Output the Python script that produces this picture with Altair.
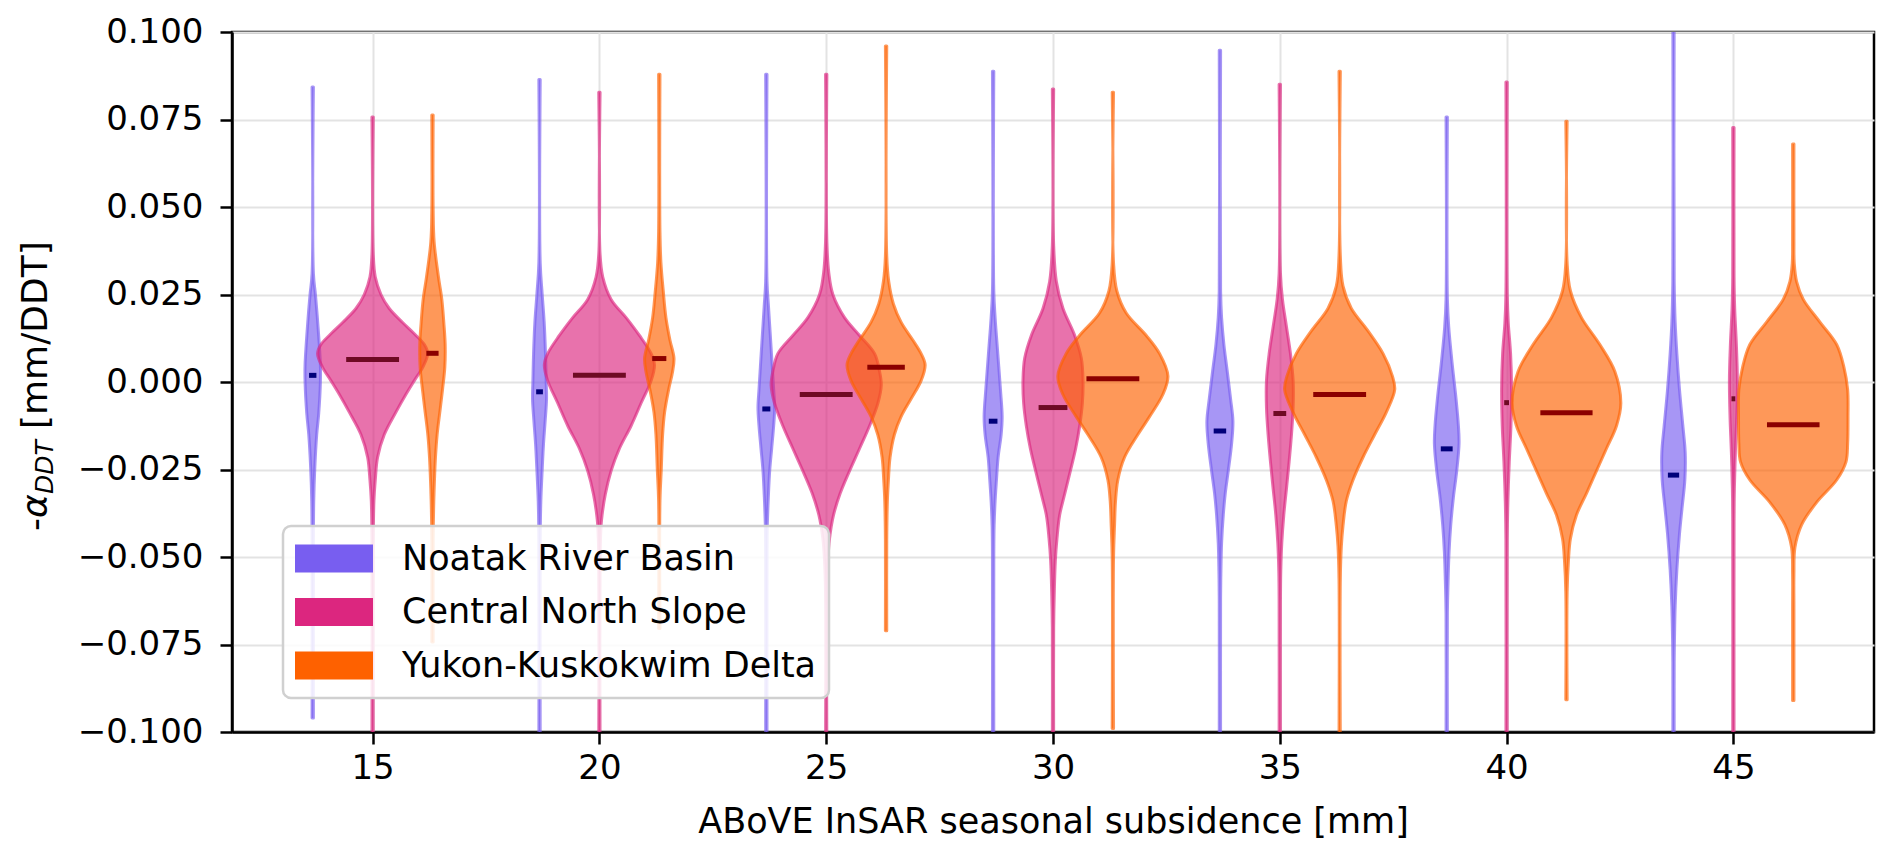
import altair as alt
import pandas as pd

# ---------------- data ----------------
REGIONS = ["Noatak River Basin", "Central North Slope", "Yukon-Kuskokwim Delta"]
COLORS = ["#785EF0", "#DC267F", "#FE6100"]
MEDIAN_COLORS = ["#00007A", "#6E0A24", "#8B0000"]
SUBSIDENCE = [15, 20, 25, 30, 35, 40, 45]
OFFSETS = [-1.32, 0.0, 1.32]
Y_TICKS = [-0.1, -0.075, -0.05, -0.025, 0.0, 0.025, 0.05, 0.075, 0.1]

MED_NOATAK = [0.0019, -0.0028, -0.0077, -0.0112, -0.0140, -0.0191, -0.0266]
MED_CNS = [0.0064, 0.0019, -0.0036, -0.0073, -0.0090, -0.0059, -0.0048]
MED_YKD = [0.0082, 0.0067, 0.0042, 0.0009, -0.0036, -0.0088, -0.0122]

# violin profiles: y levels and half-widths (x units)
N15_Y = [0.0843, 0.031, 0.025, 0.017, 0.005, 0.000, -0.009, -0.015, -0.025, -0.034, -0.045, -0.096]
N15_W = [0.015, 0.015, 0.059, 0.110, 0.169, 0.169, 0.132, 0.088, 0.044, 0.022, 0.015, 0.015]
C15_Y = [0.0757, 0.0364, 0.030, 0.025, 0.021, 0.017, 0.0133, 0.0107, 0.0081, 0.0042, 0.0004, -0.0035, -0.0086, -0.015, -0.0215, -0.028, -0.034, -0.045, -0.105]
C15_W = [0.015, 0.015, 0.059, 0.184, 0.368, 0.662, 0.957, 1.141, 1.214, 1.104, 0.920, 0.736, 0.515, 0.258, 0.110, 0.059, 0.029, 0.015, 0.015]
Y15_Y = [0.0763, 0.049, 0.040, 0.030, 0.0236, 0.017, 0.0107, 0.0042, -0.0022, -0.0086, -0.015, -0.0215, -0.028, -0.034, -0.045, -0.0743]
Y15_W = [0.015, 0.015, 0.037, 0.132, 0.206, 0.250, 0.280, 0.272, 0.221, 0.162, 0.103, 0.066, 0.044, 0.029, 0.015, 0.015]

N20_Y = [0.0864, 0.034, 0.025, 0.017, 0.008, 0.000, -0.0048, -0.011, -0.0176, -0.025, -0.034, -0.045, -0.105]
N20_W = [0.015, 0.015, 0.059, 0.103, 0.132, 0.147, 0.155, 0.125, 0.088, 0.059, 0.029, 0.015, 0.015]
C20_Y = [0.0828, 0.0364, 0.030, 0.0236, 0.0184, 0.0133, 0.0081, 0.0049, 0.0004, -0.006, -0.0125, -0.019, -0.0254, -0.032, -0.038, -0.041, -0.050, -0.105]
C20_W = [0.015, 0.015, 0.074, 0.258, 0.589, 0.883, 1.141, 1.214, 1.141, 0.920, 0.699, 0.442, 0.258, 0.132, 0.059, 0.037, 0.015, 0.015]
Y20_Y = [0.0879, 0.043, 0.034, 0.026, 0.0184, 0.012, 0.0068, 0.003, -0.0022, -0.0086, -0.015, -0.025, -0.034, -0.0704]
Y20_W = [0.015, 0.015, 0.037, 0.088, 0.147, 0.235, 0.324, 0.294, 0.206, 0.118, 0.074, 0.044, 0.015, 0.015]

N25_Y = [0.0879, 0.0287, 0.0223, 0.0133, 0.0042, -0.0022, -0.0073, -0.0125, -0.019, -0.0254, -0.033, -0.041, -0.050, -0.105]
N25_W = [0.015, 0.015, 0.044, 0.088, 0.132, 0.162, 0.184, 0.162, 0.118, 0.074, 0.044, 0.022, 0.015, 0.015]
C25_Y = [0.0879, 0.040, 0.031, 0.025, 0.0184, 0.0133, 0.0081, 0.003, -0.0009, -0.006, -0.0125, -0.019, -0.0254, -0.0318, -0.038, -0.0447, -0.051, -0.060, -0.105]
C25_W = [0.015, 0.015, 0.059, 0.147, 0.405, 0.736, 1.067, 1.177, 1.214, 1.141, 0.957, 0.736, 0.515, 0.309, 0.162, 0.074, 0.037, 0.015, 0.015]
Y25_Y = [0.096, 0.036, 0.0287, 0.0223, 0.0171, 0.012, 0.0081, 0.0049, 0.0004, -0.0048, -0.0099, -0.015, -0.0215, -0.028, -0.034, -0.045, -0.0711]
Y25_W = [0.015, 0.015, 0.059, 0.162, 0.331, 0.589, 0.773, 0.861, 0.773, 0.552, 0.331, 0.184, 0.088, 0.052, 0.029, 0.015, 0.015]

N30_Y = [0.0888, 0.026, 0.0184, 0.0081, -0.0022, -0.0099, -0.015, -0.0215, -0.028, -0.034, -0.041, -0.050, -0.105]
N30_W = [0.015, 0.015, 0.044, 0.103, 0.162, 0.199, 0.177, 0.110, 0.074, 0.044, 0.022, 0.015, 0.015]
C30_Y = [0.0837, 0.039, 0.0287, 0.021, 0.0133, 0.0068, 0.0004, -0.006, -0.0125, -0.019, -0.0254, -0.032, -0.038, -0.0447, -0.051, -0.060, -0.070, -0.105]
C30_W = [0.015, 0.015, 0.074, 0.221, 0.478, 0.625, 0.662, 0.648, 0.589, 0.500, 0.383, 0.258, 0.147, 0.088, 0.052, 0.029, 0.015, 0.015]
Y30_Y = [0.0828, 0.034, 0.026, 0.0197, 0.0133, 0.0081, 0.0017, -0.0035, -0.0099, -0.015, -0.0215, -0.028, -0.034, -0.041, -0.050, -0.099]
Y30_W = [0.015, 0.015, 0.088, 0.294, 0.736, 1.030, 1.214, 1.104, 0.809, 0.552, 0.258, 0.110, 0.059, 0.037, 0.015, 0.015]

N35_Y = [0.0948, 0.026, 0.0184, 0.0107, 0.003, -0.0048, -0.0112, -0.0176, -0.0254, -0.0318, -0.038, -0.046, -0.054, -0.062, -0.105]
N35_W = [0.015, 0.015, 0.037, 0.088, 0.162, 0.235, 0.287, 0.258, 0.184, 0.118, 0.074, 0.037, 0.022, 0.015, 0.015]
C35_Y = [0.0851, 0.031, 0.0236, 0.0158, 0.0081, 0.0004, -0.0073, -0.015, -0.0228, -0.0305, -0.038, -0.046, -0.054, -0.062, -0.105]
C35_W = [0.015, 0.015, 0.059, 0.147, 0.235, 0.294, 0.294, 0.258, 0.206, 0.147, 0.088, 0.044, 0.022, 0.015, 0.015]
Y35_Y = [0.0888, 0.036, 0.0274, 0.021, 0.0146, 0.0081, 0.0017, -0.0022, -0.0086, -0.015, -0.0215, -0.028, -0.034, -0.041, -0.047, -0.056, -0.105]
Y35_W = [0.015, 0.015, 0.074, 0.258, 0.625, 0.957, 1.163, 1.214, 1.030, 0.773, 0.515, 0.294, 0.147, 0.074, 0.037, 0.015, 0.015]

N40_Y = [0.0757, 0.0236, 0.0158, 0.0055, -0.0048, -0.0125, -0.0176, -0.0254, -0.033, -0.041, -0.0485, -0.0575, -0.066, -0.105]
N40_W = [0.015, 0.015, 0.044, 0.118, 0.206, 0.258, 0.272, 0.221, 0.147, 0.088, 0.052, 0.029, 0.015, 0.015]
C40_Y = [0.0857, 0.025, 0.017, 0.0081, -0.0022, -0.0125, -0.0228, -0.034, -0.045, -0.105]
C40_W = [0.015, 0.015, 0.037, 0.088, 0.110, 0.096, 0.059, 0.029, 0.015, 0.015]
Y40_Y = [0.0745, 0.034, 0.026, 0.0184, 0.0107, 0.003, -0.006, -0.0125, -0.019, -0.0254, -0.0318, -0.038, -0.0447, -0.051, -0.060, -0.0908]
Y40_W = [0.015, 0.015, 0.088, 0.331, 0.736, 1.067, 1.199, 1.104, 0.883, 0.662, 0.442, 0.221, 0.088, 0.044, 0.015, 0.015]

N45_Y = [0.105, 0.0287, 0.017, 0.0081, -0.0022, -0.0125, -0.0202, -0.028, -0.0357, -0.0434, -0.0537, -0.064, -0.073, -0.080, -0.105]
N45_W = [0.015, 0.015, 0.037, 0.074, 0.132, 0.206, 0.258, 0.250, 0.191, 0.132, 0.074, 0.037, 0.022, 0.015, 0.015]
C45_Y = [0.0727, 0.030, 0.021, 0.0107, 0.0004, -0.0099, -0.0202, -0.0305, -0.040, -0.105]
C45_W = [0.015, 0.015, 0.029, 0.066, 0.088, 0.074, 0.044, 0.022, 0.015, 0.015]
Y45_Y = [0.068, 0.040, 0.0339, 0.0287, 0.0236, 0.0171, 0.0107, 0.0042, -0.0022, -0.0099, -0.0176, -0.0228, -0.028, -0.0344, -0.0408, -0.0473, -0.055, -0.065, -0.091]
Y45_W = [0.015, 0.015, 0.022, 0.074, 0.221, 0.589, 0.957, 1.118, 1.199, 1.207, 1.199, 1.163, 0.957, 0.515, 0.184, 0.037, 0.015, 0.015, 0.015]

PROFILES = [
    [(N15_Y, N15_W), (N20_Y, N20_W), (N25_Y, N25_W), (N30_Y, N30_W), (N35_Y, N35_W), (N40_Y, N40_W), (N45_Y, N45_W)],
    [(C15_Y, C15_W), (C20_Y, C20_W), (C25_Y, C25_W), (C30_Y, C30_W), (C35_Y, C35_W), (C40_Y, C40_W), (C45_Y, C45_W)],
    [(Y15_Y, Y15_W), (Y20_Y, Y20_W), (Y25_Y, Y25_W), (Y30_Y, Y30_W), (Y35_Y, Y35_W), (Y40_Y, Y40_W), (Y45_Y, Y45_W)],
]
MEDIANS = [MED_NOATAK, MED_CNS, MED_YKD]

# ---------------- tables ----------------
area_tables, median_tables = [], []
for ri, region in enumerate(REGIONS):
    rows, mrows = [], []
    for gi, s in enumerate(SUBSIDENCE):
        ys, ws = PROFILES[ri][gi]
        pos = s + OFFSETS[ri]
        for y, w in zip(ys, ws):
            rows.append({"region": region, "vid": f"v{ri}_{gi}", "y": y, "xl": pos - w, "xr": pos + w})
        half = 0.48 * max(ws)
        mrows.append({"region": region, "y": MEDIANS[ri][gi], "xl": pos - half, "xr": pos + half})
    df = pd.DataFrame(rows).sort_values(["vid", "y"]).reset_index(drop=True)
    area_tables.append(df)
    median_tables.append(pd.DataFrame(mrows))

# ---------------- encodings ----------------
x_scale = alt.Scale(domain=[11.9, 48.1], nice=False, zero=False)
y_scale = alt.Scale(domain=[-0.1, 0.1], nice=False, zero=False)
color_scale = alt.Scale(domain=REGIONS, range=COLORS)

x_axis = alt.Axis(values=SUBSIDENCE, title="ABoVE InSAR seasonal subsidence [mm]",
                  labelPadding=7, titleY=100, titleBaseline="alphabetic", grid=True,
                  titleFontSize=35)
y_axis = alt.Axis(values=Y_TICKS, format=".3f", title=None, labelPadding=17, grid=True)

legend = alt.Legend(
    title=None, orient="none", legendX=51, legendY=494,
    symbolType="M-1,-0.359H1V0.359H-1Z", symbolSize=6084,
    symbolStrokeWidth=0, symbolOpacity=1,
    clipHeight=41, rowPadding=12.5, padding=12, labelOffset=29,
    labelFontSize=35, labelFont="DejaVu Sans", labelColor="black", labelLimit=0,
    strokeColor="#D0D0D0", fillColor="rgba(255,255,255,0.85)", cornerRadius=8,
)

layers = []
for ri in range(3):
    area = alt.Chart(area_tables[ri]).mark_area(
        orient="horizontal", interpolate="catmull-rom", fillOpacity=0.65,
        strokeOpacity=0.65, strokeWidth=3, strokeJoin="round", clip=True,
    ).encode(
        y=alt.Y("y:Q", scale=y_scale, axis=y_axis),
        x=alt.X("xl:Q", scale=x_scale, axis=x_axis),
        x2="xr:Q",
        detail="vid:N",
        color=alt.Color("region:N", scale=color_scale, legend=legend),
        stroke=alt.Stroke("region:N", scale=color_scale, legend=None),
    )
    med = alt.Chart(median_tables[ri]).mark_rule(
        strokeWidth=5, color=MEDIAN_COLORS[ri], strokeCap="butt"
    ).encode(
        y=alt.Y("y:Q", scale=y_scale, axis=y_axis),
        x=alt.X("xl:Q", scale=x_scale, axis=x_axis),
        x2="xr:Q",
    )
    layers += [area, med]

# y-axis title  "-α_DDT [mm/DDT]"
one = pd.DataFrame({"t": [0]})
def title_piece(txt, x, y, size, italic=False):
    kw = dict(text=txt, angle=270, align="left", baseline="alphabetic",
              font="DejaVu Sans", fontSize=size, color="black")
    if italic:
        kw["fontStyle"] = "italic"
    return alt.Chart(one).mark_text(**kw).encode(x=alt.value(x), y=alt.value(y))

layers += [
    title_piece("-", -185, 499, 36),
    title_piece("α", -185, 486, 36, italic=True),
    title_piece("DDT", -179, 462, 25, italic=True),
    title_piece("[mm/DDT]", -185, 397, 36),
]

chart = alt.layer(*layers).properties(
    width=1642, height=700, autosize="none",
    padding={"left": 224, "top": 24, "right": 10, "bottom": 118},
).configure_view(
    stroke="black", strokeWidth=2.5
).configure_axis(
    domainColor="black", domainWidth=2.5, tickColor="black", tickWidth=2.5, tickSize=12,
    gridColor="#E3E3E3", gridWidth=2,
    labelFont="DejaVu Sans", labelFontSize=34, labelColor="black",
    titleFont="DejaVu Sans", titleFontSize=34, titleFontWeight="normal", titleColor="black",
).configure_legend(
    strokeWidth=2.5
)

chart.save("out.html", embed_options={"renderer": "svg", "actions": False})
